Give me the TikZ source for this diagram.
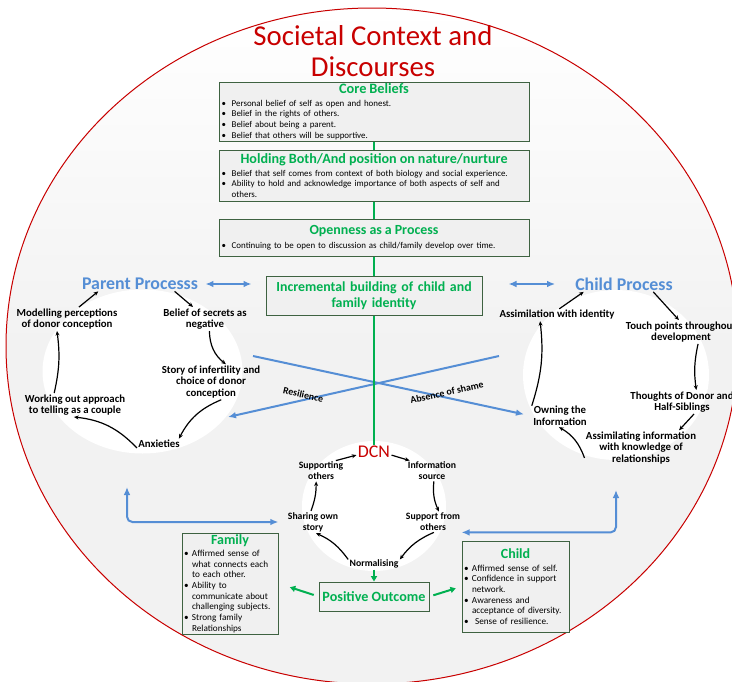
\documentclass[tikz,border=0pt]{standalone}
\usepackage{fontspec}
\setmainfont{Carlito}
\usetikzlibrary{arrows.meta}
\definecolor{headGreen}{RGB}{0,176,80}
\definecolor{procBlue}{RGB}{85,142,213}
\definecolor{discRed}{RGB}{200,0,0}
\definecolor{bgGrey}{RGB}{242,242,242}
\tikzset{every picture/.style={line width=0.75pt}}
\newcommand{\boxhead}[2]{\makebox[\linewidth][c]{\fontsize{#1}{#1}\selectfont\bfseries\color{headGreen}#2}}
\newcommand{\bul}{\makebox[7.5pt][l]{\textbullet}}
\newcommand{\ind}{\hspace*{7.5pt}}
\newcommand{\sbul}{\makebox[6pt][l]{\textbullet}}
\newcommand{\sind}{\hspace*{6pt}}

\begin{document}
\begin{tikzpicture}[x=0.75pt,y=0.75pt,yscale=-1,xscale=1,
  infobox/.style={draw={rgb,255:red,62;green,98;blue,65}, fill={rgb,255:red,240;green,240;blue,240}, inner xsep=2pt, inner ysep=0pt},
  outbox/.style={infobox, inner xsep=1.5pt, align=left, font=\fontsize{6.9}{8}\selectfont},
  lab/.style={inner sep=0.75pt, align=center, font=\fontsize{8.1}{8.7}\selectfont\bfseries},
  dlab/.style={inner sep=0.75pt, align=center, font=\fontsize{7.3}{8.2}\selectfont\bfseries},
  proc/.style={inner sep=0.75pt, text=procBlue, font=\fontsize{13.4}{15}\selectfont\bfseries},
  linelab/.style={inner sep=1pt, font=\fontsize{7.4}{8.6}\selectfont\bfseries},
  cyc/.style={-{Stealth[length=3.5pt,width=3pt]}, line width=0.9pt},
  bluearr/.style={draw=procBlue, line width=1.5pt},
  greenline/.style={draw=headGreen, line width=1.5pt}]
\useasboundingbox (0,0) rectangle (732,682);

%Shape: Ellipse
\draw [draw=discRed, top color=white, bottom color=bgGrey, middle color=bgGrey] (372,346) ellipse (366 and 338);
%Shape: Ellipse
\fill [white] (142.5,371.5) ellipse (100 and 82);
%Shape: Ellipse
\fill [white] (616,375) ellipse (93 and 85);
%Shape: Ellipse
\fill [white] (374,506) ellipse (72 and 65);

% Text Node
\draw (373,51) node (title) [inner sep=0pt, align=center, text=discRed, font=\fontsize{21.6}{23.25}\selectfont] {Societal Context and\\Discourses};

%Shape: Rectangle
\draw (374,111.5) node (core) [infobox, text width=228.5pt, minimum height=44.25pt, align=left, font=\fontsize{6.7}{8.1}\selectfont] {\boxhead{10.75}{Core Beliefs}\\[1.5pt]
\bul Personal belief of self as open and honest.\\
\bul Belief in the rights of others.\\
\bul Belief about being a parent.\\
\bul Belief that others will be supportive.};
%Shape: Rectangle
\draw (374,175.5) node (hold) [infobox, text width=228.5pt, minimum height=38.25pt, align=left, font=\fontsize{6.7}{8.1}\selectfont] {\boxhead{10.6}{Holding Both/And position on nature/nurture}\\[1.5pt]
\bul Belief that self comes from context of both biology and social experience.\\
\bul Ability to hold and acknowledge importance of both aspects of self and\\
\ind others.};
%Shape: Rectangle
\draw (374,237.5) node (open) [infobox, text width=228.5pt, minimum height=27.75pt, align=left, font=\fontsize{6.7}{8.1}\selectfont] {\boxhead{10.45}{Openness as a Process}\\[2pt]
\bul Continuing to be open to discussion as child/family develop over time.};
%Shape: Rectangle
\draw (374,295.5) node (incr) [infobox, text width=158pt, minimum height=29.25pt, align=center, text=headGreen, font=\fontsize{10.4}{12}\selectfont\bfseries] {Incremental building of child and\\family identity};
%Shape: Rectangle
\draw (374,596.5) node (pos) [infobox, minimum width=82.5pt, minimum height=21.75pt, text=headGreen, font=\fontsize{10.6}{12}\selectfont\bfseries] {Positive Outcome};
%Shape: Rectangle
\draw (230,583.5) node (fam) [outbox, text width=69pt, minimum height=75.75pt] {\boxhead{10.5}{Family}\\[1pt]
\sbul Affirmed sense of\\ \sind what connects each\\ \sind to each other.\\
\sbul Ability to\\ \sind communicate about\\ \sind challenging subjects.\\
\sbul Strong family\\ \sind Relationships};
%Shape: Rectangle
\draw (515.5,586.5) node (kid) [outbox, text width=77.25pt, minimum height=68.25pt] {\boxhead{10.5}{Child}\\[1.5pt]
\sbul Affirmed sense of self.\\
\sbul Confidence in support\\ \sind network.\\
\sbul Awareness and\\ \sind acceptance of diversity.\\
\sbul \ Sense of resilience.};

% Text Node
\draw (140,284) node (pp) [proc] {Parent Processs};
\draw (67,319) node (model) [lab] {Modelling perceptions\\of donor conception};
\draw (205,319) node (belief) [lab] {Belief of secrets as\\negative};
\draw (211,382) node (story) [lab] {Story of infertility and\\choice of donor\\conception};
\draw (75,405) node (work) [lab] {Working out approach\\to telling as a couple};
\draw (159,444) node (anx) [lab] {Anxieties};

% Text Node
\draw (624,284) node (cp) [proc] {Child Process};
\draw (557,315) node (assim) [lab] {Assimilation with identity};
\draw (681,332) node (touch) [lab] {Touch points throughout\\development};
\draw (682,402) node (thoughts) [lab] {Thoughts of Donor and\\Half-Siblings};
\draw (560,416) node (own) [lab] {Owning the\\Information};
\draw (641,448) node (asinfo) [lab] {Assimilating information\\with knowledge of\\relationships};

% Text Node
\draw (374,452) node (dcn) [inner sep=0.75pt, text=discRed, font=\fontsize{13.4}{15}\selectfont] {DCN};
\draw (321,471) node (supp) [dlab] {Supporting\\others};
\draw (432,471) node (info) [dlab] {Information\\source};
\draw (313,522) node (share) [dlab] {Sharing own\\story};
\draw (433,522) node (suppfrom) [dlab] {Support from\\others};
\draw (374,564) node (norm) [dlab] {Normalising};

\coordinate (xa) at (253,356);
\coordinate (xb) at (499,356);
\coordinate (resTip) at (228,417);
\coordinate (pbot) at (127,487);
\coordinate (cbot) at (616,490);

%Curve Lines
\draw [cyc] (model.45) -- (pp.190);
\draw [cyc] (pp.-12) -- (belief.135);
\draw [cyc] (belief.-70) to[bend left=25] (story.50);
\draw [cyc] (story.-60) to[bend left=20] (anx.15);
\draw [cyc] (anx.190) to[bend left=20] (work.-95);
\draw [cyc] (work.150) to[bend left=10] (model.-130);
%Curve Lines
\draw [cyc] (assim.70) -- (cp.191);
\draw [cyc] (cp.-15) -- (touch.100);
\draw [cyc] (touch.-35) to[bend left=10] (thoughts.40);
\draw [cyc] (thoughts.-45) -- (asinfo.25);
\draw [cyc] (asinfo.190) to[bend left=20] (own.-95);
\draw [cyc] (own.160) to[bend left=12] (assim.200);
%Curve Lines
\draw [cyc] (supp.35) -- (dcn.190);
\draw [cyc] (dcn.-10) -- (info.155);
\draw [cyc] (info.-80) to[bend left=15] (suppfrom.60);
\draw [cyc] (suppfrom.-85) to[bend left=15] (norm.10);
\draw [cyc] (norm.170) to[bend left=15] (share.-75);
\draw [cyc] (share.100) to[bend left=10] (supp.-115);

%Straight Lines
\draw [bluearr, {Latex[length=6pt,width=5pt]}-{Latex[length=6pt,width=5pt]}, shorten <=4.5pt, shorten >=10.5pt] (pp.east) -- (pp.east -| incr.west);
\draw [bluearr, {Latex[length=6pt,width=5pt]}-{Latex[length=6pt,width=5pt]}, shorten <=14pt, shorten >=19.5pt] (cp.west) -- (cp.west -| incr.east);
\draw [bluearr, -{Latex[length=6pt,width=5pt]}, shorten >=6pt] (xa) -- (own.west) node [linelab, pos=0.7, sloped, above] (shame) {Absence of shame};
\draw [bluearr, -{Latex[length=6pt,width=5pt]}] (xb) -- (resTip) node [linelab, pos=0.727, sloped, above] (res) {Resilience};
\draw [bluearr, {Latex[length=6pt,width=5pt]}-{Latex[length=6pt,width=5pt]}, rounded corners=4pt, shorten >=6pt] (pbot) |- (share.west);
\draw [bluearr, {Latex[length=6pt,width=5pt]}-{Latex[length=6pt,width=5pt]}, rounded corners=4pt] (cbot) |- (suppfrom.-20);

%Straight Lines
\draw [greenline] (core) -- (hold);
\draw [greenline] (hold) -- (open);
\draw [greenline] (open) -- (incr);
\draw [greenline] (incr) -- (dcn);
\draw [greenline, -{Triangle[length=4pt,width=4.5pt]}] (norm) -- (pos);
\draw [greenline, -{Triangle[length=4pt,width=4.5pt]}, shorten <=3.75pt, shorten >=9pt] (pos.west) -- (fam.east);
\draw [greenline, -{Triangle[length=4pt,width=4.5pt]}, shorten <=3pt, shorten >=4.5pt] (pos.east) -- (kid.west);

\end{tikzpicture}
\end{document}
